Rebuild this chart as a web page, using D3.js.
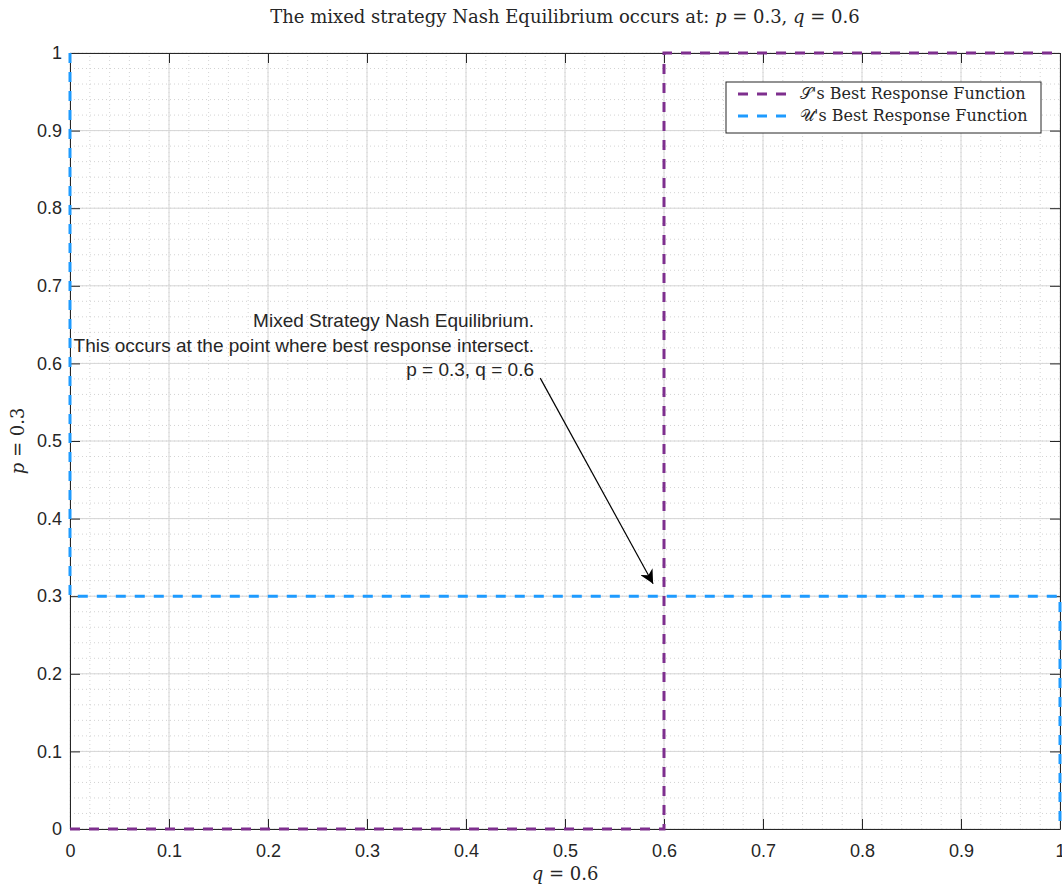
<!DOCTYPE html>
<html>
<head>
<meta charset="utf-8">
<script src="https://cdn.jsdelivr.net/npm/d3@7"></script>
<style>
  body { margin: 0; background: #fff; }
  text { fill: #262626; }
</style>
</head>
<body>
<script>
// Best response functions (q on x, p on y)
const sQ = [0, 0.6, 0.6, 1];
const sP = [0, 0, 1, 1];
const uQ = [0, 0, 1, 1];
const uP = [1, 0.3, 0.3, 0];
const seriesNames = ["\u{1D4AE}'s Best Response Function", "\u{1D4B0}'s Best Response Function"];
const ticks = d3.range(0, 11).map(d => d / 10);
const tickLabels = ['0', '0.1', '0.2', '0.3', '0.4', '0.5', '0.6', '0.7', '0.8', '0.9', '1'];
const minorTicks = d3.range(0, 51).map(d => d / 50);
const noteLines = ['Mixed Strategy Nash Equilibrium.', 'This occurs at the point where best response intersect.', 'p = 0.3, q = 0.6'];
const eqQ = 0.6, eqP = 0.3;

const width = 1062, height = 888;
const margin = { top: 53, right: 2, bottom: 59, left: 70 };
const serif = '"DejaVu Serif", "Liberation Serif", serif';

const svg = d3.select('body').append('svg')
    .attr('width', width)
    .attr('height', height)
    .style('font-family', '"Liberation Sans", Arial, sans-serif');

svg.append('rect').attr('width', width).attr('height', height).attr('fill', '#fff');

const x = d3.scaleLinear().domain([0, 1]).range([margin.left, width - margin.right]);
const y = d3.scaleLinear().domain([0, 1]).range([height - margin.bottom, margin.top]);

// minor grid
const grid = svg.append('g');
grid.selectAll('.mx').data(minorTicks).enter().append('line')
    .attr('x1', d => x(d)).attr('x2', d => x(d))
    .attr('y1', y(0)).attr('y2', y(1))
    .attr('stroke', '#c8c8c8').attr('stroke-width', 0.8).attr('stroke-dasharray', '1,3');
grid.selectAll('.my').data(minorTicks).enter().append('line')
    .attr('y1', d => y(d)).attr('y2', d => y(d))
    .attr('x1', x(0)).attr('x2', x(1))
    .attr('stroke', '#c8c8c8').attr('stroke-width', 0.8).attr('stroke-dasharray', '1,3');
// major grid
grid.selectAll('.gx').data(ticks).enter().append('line')
    .attr('x1', d => x(d)).attr('x2', d => x(d))
    .attr('y1', y(0)).attr('y2', y(1))
    .attr('stroke', '#d6d6d6').attr('stroke-width', 1);
grid.selectAll('.gy').data(ticks).enter().append('line')
    .attr('y1', d => y(d)).attr('y2', d => y(d))
    .attr('x1', x(0)).attr('x2', x(1))
    .attr('stroke', '#d6d6d6').attr('stroke-width', 1);

// axes (ticks inside, box on)
const tickLen = 10;
const fmt = d => tickLabels[Math.round(d * 10)];
svg.append('g').attr('transform', `translate(0,${y(0)})`)
    .call(d3.axisBottom(x).tickValues(ticks).tickFormat(fmt).tickSizeInner(-tickLen).tickSizeOuter(0).tickPadding(15));
svg.append('g').attr('transform', `translate(0,${y(1)})`)
    .call(d3.axisTop(x).tickValues(ticks).tickFormat('').tickSizeInner(-tickLen).tickSizeOuter(0));
svg.append('g').attr('transform', `translate(${x(0)},0)`)
    .call(d3.axisLeft(y).tickValues(ticks).tickFormat(fmt).tickSizeInner(-tickLen).tickSizeOuter(0).tickPadding(8));
svg.append('g').attr('transform', `translate(${x(1)},0)`)
    .call(d3.axisRight(y).tickValues(ticks).tickFormat('').tickSizeInner(-tickLen).tickSizeOuter(0));
svg.selectAll('.domain, .tick line').attr('stroke', '#262626').attr('stroke-width', 1);
svg.selectAll('.tick text').attr('font-size', 18).attr('fill', '#262626')
    .attr('font-family', '"Liberation Sans", Arial, sans-serif');

// best response lines
const line = d3.line().x(d => x(d[0])).y(d => y(d[1]));
const colors = ['#7e2f8e', '#1e9bff'];
svg.append('path').datum(sQ.map((q, i) => [q, sP[i]]))
    .attr('d', line).attr('fill', 'none')
    .attr('stroke', colors[0]).attr('stroke-width', 3).attr('stroke-dasharray', '10,9');
svg.append('path').datum(uQ.map((q, i) => [q, uP[i]]))
    .attr('d', line).attr('fill', 'none')
    .attr('stroke', colors[1]).attr('stroke-width', 3).attr('stroke-dasharray', '10,9');

// title
const title = svg.append('text').attr('x', x(0.5)).attr('y', 23)
    .attr('text-anchor', 'middle').attr('font-size', 18)
    .attr('font-family', serif);
title.append('tspan').text('The mixed strategy Nash Equilibrium occurs at: ');
title.append('tspan').attr('font-style', 'italic').text('p');
title.append('tspan').text(` = ${eqP}, `);
title.append('tspan').attr('font-style', 'italic').text('q');
title.append('tspan').text(` = ${eqQ}`);

// axis labels
const xl = svg.append('text').attr('x', x(0.5)).attr('y', 880)
    .attr('text-anchor', 'middle').attr('font-size', 18)
    .attr('font-family', serif);
xl.append('tspan').attr('font-style', 'italic').text('q');
xl.append('tspan').text(` = ${eqQ}`);
const yl = svg.append('text').attr('transform', `translate(24,${y(0.5)}) rotate(-90)`)
    .attr('text-anchor', 'middle').attr('font-size', 18)
    .attr('font-family', serif);
yl.append('tspan').attr('font-style', 'italic').text('p');
yl.append('tspan').text(` = ${eqP}`);

// annotation
svg.append('g').selectAll('text').data(noteLines).enter().append('text')
    .attr('x', 534).attr('y', (d, i) => 327 + i * 24.5)
    .attr('text-anchor', 'end').attr('font-size', 19)
    .text(d => d);

svg.append('defs').append('marker')
    .attr('id', 'arrow').attr('viewBox', '0 0 10 10')
    .attr('refX', 10).attr('refY', 5)
    .attr('markerWidth', 14).attr('markerHeight', 14).attr('markerUnits', 'userSpaceOnUse')
    .attr('orient', 'auto')
    .append('path').attr('d', 'M0,0 L10,5 L0,10 L3,5 Z').attr('fill', '#000');
svg.append('line')
    .attr('x1', x(0.475)).attr('y1', y(0.581))
    .attr('x2', x(0.589)).attr('y2', y(0.316))
    .attr('stroke', '#000').attr('stroke-width', 1.2)
    .attr('marker-end', 'url(#arrow)');

// legend
const legend = svg.append('g').attr('transform', 'translate(726,82)');
legend.append('rect').attr('width', 315).attr('height', 51)
    .attr('fill', '#fff').attr('stroke', '#262626').attr('stroke-width', 1);
seriesNames.forEach((name, i) => {
    const row = legend.append('g').attr('transform', `translate(0,${12 + i * 22})`);
    row.append('line').attr('x1', 12).attr('x2', 60)
        .attr('stroke', colors[i]).attr('stroke-width', 3).attr('stroke-dasharray', '10,9');
    row.append('text').attr('x', 74).attr('y', 5).attr('font-size', 16)
        .attr('font-family', serif)
        .text(name);
});
</script>
</body>
</html>
